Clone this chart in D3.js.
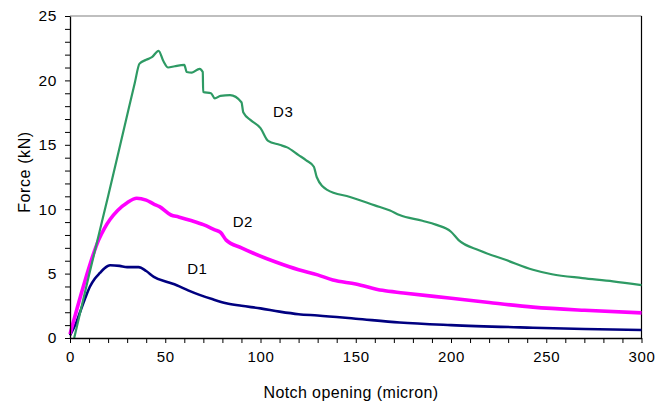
<!DOCTYPE html>
<html>
<head>
<meta charset="utf-8">
<script src="https://cdn.jsdelivr.net/npm/d3@7"></script>
<style>
  body { margin: 0; background: #fff; }
  svg text { font-family: "Liberation Sans", Arial, sans-serif; fill: #000; }
</style>
</head>
<body>
<div id="wrapper"></div>
<script>
// data (x: notch opening in micron, y: force in kN)
const d1X = [0, 3, 5.5, 8, 10.5, 13, 15.7, 18, 21, 26, 30, 36, 40, 44, 51, 56, 62, 68, 75, 82, 90, 100, 110, 120, 130, 150, 173, 200, 243, 270, 300]
const d1Y = [0.2, 1.1, 2.1, 3.1, 4.0, 4.6, 5.05, 5.4, 5.65, 5.6, 5.5, 5.5, 5.2, 4.75, 4.35, 4.1, 3.7, 3.35, 3.0, 2.7, 2.5, 2.3, 2.05, 1.85, 1.75, 1.5, 1.2, 1.0, 0.8, 0.7, 0.62]

const d2X = [0, 3, 6, 9, 12, 15, 18, 21, 25, 30, 35, 40, 44, 47, 53, 57, 64, 70, 76, 79, 82, 90, 96, 108, 120, 130, 138, 150, 164, 175, 199, 220, 243, 270, 300]
const d2Y = [0.3, 1.9, 3.5, 5.0, 6.4, 7.6, 8.5, 9.2, 9.9, 10.5, 10.85, 10.7, 10.4, 10.2, 9.55, 9.4, 9.1, 8.8, 8.4, 8.2, 7.6, 7.0, 6.6, 5.9, 5.3, 4.9, 4.5, 4.2, 3.7, 3.5, 3.1, 2.75, 2.4, 2.15, 1.95]

const d3X = [2.2, 10, 20, 30, 34, 36.5, 40, 43, 46.5, 49, 51.5, 55, 60, 61.3, 64, 68, 69.7, 69.9, 74, 76, 79, 84, 90, 91, 95, 100, 104, 110, 114, 120, 124, 128, 129.5, 135, 147, 160, 168, 173, 185, 192, 200, 204, 215, 229, 243, 253, 269, 285, 300]
const d3Y = [0, 4.9, 11.0, 17.3, 19.8, 21.3, 21.6, 21.8, 22.3, 21.5, 21.0, 21.1, 21.2, 20.65, 20.6, 20.9, 20.65, 19.1, 19.0, 18.6, 18.8, 18.85, 18.3, 17.5, 16.9, 16.3, 15.3, 15.0, 14.8, 14.2, 13.8, 13.3, 12.5, 11.5, 10.95, 10.3, 9.9, 9.55, 9.1, 8.8, 8.25, 7.6, 6.8, 6.05, 5.3, 4.95, 4.65, 4.4, 4.1]

const seriesNames = ["D1", "D2", "D3"]
const seriesColors = ["#000080", "#ff00ff", "#2e9a64"]
const seriesWidths = [2.6, 3.6, 2.2]
const labelX = [66.8, 90.7, 111.9]
const labelY = [5.4, 9.08, 17.55]

const xTicks = [0, 50, 100, 150, 200, 250, 300]
const yTicks = [0, 5, 10, 15, 20, 25]

const dimensions = {
    width: 670,
    height: 401,
    margin: { top: 16, right: 28, bottom: 63, left: 70 },
}
dimensions.boundedWidth = dimensions.width - dimensions.margin.left - dimensions.margin.right
dimensions.boundedHeight = dimensions.height - dimensions.margin.top - dimensions.margin.bottom

const svg = d3.select("#wrapper").append("svg")
    .attr("width", dimensions.width)
    .attr("height", dimensions.height)

const bounds = svg.append("g")
    .attr("transform", `translate(${dimensions.margin.left},${dimensions.margin.top})`)

const xScale = d3.scaleLinear().domain([0, 300]).range([0, dimensions.boundedWidth - 0.5])
const yScale = d3.scaleLinear().domain([0, 25]).range([dimensions.boundedHeight, 0])

// frame: top grey, right black
bounds.append("line")
    .attr("x1", 0).attr("x2", xScale(300)).attr("y1", 0).attr("y2", 0)
    .attr("stroke", "#808080").attr("stroke-width", 1.2)
bounds.append("line")
    .attr("x1", xScale(300)).attr("x2", xScale(300)).attr("y1", 0).attr("y2", dimensions.boundedHeight)
    .attr("stroke", "#000").attr("stroke-width", 1.2)

// lines
const allSeries = [[d1X, d1Y], [d2X, d2Y], [d3X, d3Y]]
const lineGen = d3.line()
    .x(d => xScale(d[0]))
    .y(d => yScale(d[1]))
    .curve(d3.curveMonotoneX)

allSeries.forEach(([xs, ys], i) => {
    const pts = xs.map((x, j) => [x, ys[j]])
    bounds.append("path")
        .datum(pts)
        .attr("d", lineGen)
        .attr("fill", "none")
        .attr("stroke", seriesColors[i])
        .attr("stroke-width", seriesWidths[i])
        .attr("stroke-linejoin", "round")
})

// series labels
bounds.selectAll(".series-label")
    .data(seriesNames)
    .enter().append("text")
    .attr("class", "series-label")
    .attr("x", (d, i) => xScale(labelX[i]))
    .attr("y", (d, i) => yScale(labelY[i]))
    .attr("text-anchor", "middle")
    .attr("dominant-baseline", "central")
    .style("font-size", "15px")
    .style("letter-spacing", "0.5px")
    .text(d => d)

// axes
const xAxis = bounds.append("g")
    .attr("transform", `translate(0,${dimensions.boundedHeight})`)
    .call(d3.axisBottom(xScale).tickValues(d3.range(0, 301, 10)).tickSize(5).tickSizeOuter(0)
        .tickFormat(d => xTicks.includes(d) ? d : ""))
xAxis.select(".domain").attr("stroke-width", 1.3)
xAxis.selectAll("text").style("font-size", "15px").style("letter-spacing", "0.6px").attr("dy", "1.05em")
    .style("font-family", "'Liberation Sans', Arial, sans-serif")

const yAxis = bounds.append("g")
    .call(d3.axisLeft(yScale).tickValues(d3.range(0, 26, 1)).tickSize(5).tickSizeOuter(0)
        .tickFormat(d => yTicks.includes(d) ? d : ""))
yAxis.select(".domain").attr("stroke-width", 1.3)
yAxis.selectAll("text").style("font-size", "15.5px").style("letter-spacing", "0.6px").attr("x", -13)
    .style("font-family", "'Liberation Sans', Arial, sans-serif")

// axis titles
svg.append("text")
    .attr("x", 351)
    .attr("y", 392)
    .attr("text-anchor", "middle")
    .attr("dominant-baseline", "central")
    .style("font-size", "16px")
    .style("letter-spacing", "0.4px")
    .text("Notch opening (micron)")

svg.append("text")
    .attr("transform", `translate(24,172) rotate(-90)`)
    .attr("text-anchor", "middle")
    .attr("dominant-baseline", "central")
    .style("font-size", "16px")
    .style("letter-spacing", "0.6px")
    .text("Force (kN)")
</script>
</body>
</html>
